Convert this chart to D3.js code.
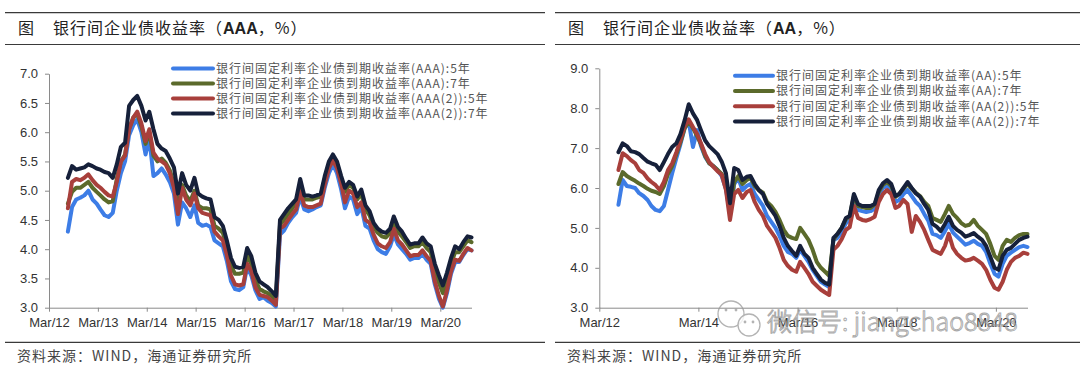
<!DOCTYPE html>
<html><head><meta charset="utf-8">
<script src="https://cdn.jsdelivr.net/npm/d3@7"></script>
<style>
html,body{margin:0;padding:0;background:#fff;}
svg{display:block;}
</style></head><body>
<svg id="c" width="1080" height="372"></svg>
<script>
// ---------------- data ----------------
const firstMonth = [2012, 6, 20];   // first observation (Jul 2012), monthly
const leftTickLabels = ["Mar/12","Mar/13","Mar/14","Mar/15","Mar/16","Mar/17","Mar/18","Mar/19","Mar/20"];
const rightTickLabels = ["Mar/12","Mar/14","Mar/16","Mar/18","Mar/20"];
const leftYTicks = [3.0,3.5,4.0,4.5,5.0,5.5,6.0,6.5,7.0];
const rightYTicks = [3.0,4.0,5.0,6.0,7.0,8.0,9.0];

const leftNames = ["银行间固定利率企业债到期收益率(AAA):5年","银行间固定利率企业债到期收益率(AAA):7年","银行间固定利率企业债到期收益率(AAA(2)):5年","银行间固定利率企业债到期收益率(AAA(2)):7年"];
const rightNames = ["银行间固定利率企业债到期收益率(AA):5年","银行间固定利率企业债到期收益率(AA):7年","银行间固定利率企业债到期收益率(AA(2)):5年","银行间固定利率企业债到期收益率(AA(2)):7年"];

const aaa5 = [4.30,4.72,4.85,4.88,4.92,
5.00,4.85,4.78,4.68,4.58,4.55,4.62,5.00,5.30,5.50,5.95,6.12,
6.22,6.00,5.62,5.90,5.25,5.30,5.38,5.28,5.15,4.95,4.42,4.80,
4.70,4.55,4.75,4.45,4.40,4.42,4.38,4.15,4.10,4.05,3.80,3.45,
3.32,3.30,3.35,3.70,3.55,3.30,3.15,3.18,3.12,3.08,3.02,4.25,
4.32,4.45,4.55,4.62,4.90,4.68,4.65,4.68,4.72,4.75,5.05,5.30,
5.45,5.30,5.02,4.70,4.90,4.85,4.60,4.72,4.40,4.35,4.15,4.00,
3.95,3.92,4.05,4.25,4.08,4.00,3.92,3.82,3.85,3.85,3.92,3.82,
3.75,3.40,3.15,3.00,3.25,3.58,3.78,3.78,3.90,4.00,3.98];
const aaa7 = [4.78,4.98,5.05,5.05,5.10,
5.15,5.05,4.98,4.92,4.85,4.80,4.82,5.20,5.50,5.62,6.05,6.25,
6.32,6.10,5.80,6.00,5.60,5.50,5.55,5.48,5.35,5.12,4.70,5.10,
4.92,4.82,5.00,4.75,4.70,4.70,4.68,4.40,4.35,4.28,4.05,3.72,
3.58,3.58,3.60,3.90,3.75,3.48,3.32,3.28,3.25,3.20,3.12,4.42,
4.50,4.60,4.70,4.78,5.10,4.85,4.85,4.85,4.88,4.90,5.20,5.45,
5.55,5.45,5.20,4.98,5.10,5.05,4.85,4.95,4.68,4.58,4.38,4.28,
4.22,4.20,4.28,4.48,4.30,4.22,4.12,4.02,4.05,4.05,4.12,4.02,
3.95,3.65,3.42,3.25,3.45,3.75,3.95,3.95,4.05,4.15,4.12];
const aaa2_5 = [4.70,5.15,5.20,5.18,5.22,
5.28,5.18,5.10,5.05,4.98,4.92,4.90,5.15,5.50,5.60,6.05,6.25,
6.35,6.15,5.85,6.05,5.65,5.55,5.50,5.45,5.30,5.05,4.60,5.05,
4.85,4.75,4.95,4.70,4.62,4.60,4.58,4.30,4.22,4.15,3.90,3.55,
3.40,3.38,3.40,3.75,3.62,3.35,3.22,3.20,3.18,3.12,3.05,4.35,
4.40,4.50,4.60,4.68,4.98,4.75,4.72,4.72,4.75,4.78,5.10,5.38,
5.52,5.38,5.12,4.80,5.00,4.95,4.72,4.80,4.50,4.45,4.25,4.10,
4.05,4.02,4.12,4.35,4.15,4.08,3.98,3.88,3.90,3.90,3.98,3.88,
3.80,3.45,3.20,3.02,3.30,3.62,3.82,3.80,3.92,4.02,3.98];
const aaa2_7 = [5.22,5.42,5.36,5.38,5.40,
5.45,5.42,5.38,5.36,5.32,5.30,5.22,5.45,5.75,5.82,6.45,6.55,
6.62,6.45,6.20,6.35,6.05,5.80,5.72,5.68,5.55,5.40,4.95,5.30,
5.10,5.00,5.22,4.95,4.90,4.87,4.85,4.55,4.50,4.40,4.15,3.85,
3.70,3.68,3.70,4.02,3.88,3.60,3.45,3.40,3.35,3.28,3.20,4.50,
4.60,4.70,4.78,4.85,5.20,4.92,4.92,4.90,4.92,4.95,5.25,5.50,
5.62,5.50,5.25,5.05,5.15,5.10,4.90,5.02,4.75,4.65,4.45,4.35,
4.30,4.28,4.35,4.56,4.38,4.30,4.18,4.08,4.10,4.10,4.20,4.10,
4.05,3.75,3.55,3.38,3.60,3.85,4.05,4.00,4.12,4.22,4.20];

const aa5 = [5.58,6.20,6.05,6.03,6.00,
5.87,5.80,5.70,5.55,5.45,5.42,5.55,5.95,6.37,6.75,7.10,7.50,
7.66,7.03,7.45,7.05,6.78,6.62,6.55,6.45,6.30,5.98,5.35,6.10,
6.25,5.95,6.05,6.10,5.85,5.70,5.55,5.30,5.15,5.00,4.80,4.55,
4.40,4.35,4.25,4.45,4.30,4.15,3.95,3.80,3.65,3.58,3.52,4.70,
4.75,4.90,5.12,5.20,5.72,5.45,5.42,5.40,5.42,5.48,5.82,6.00,
6.05,5.95,5.65,5.70,5.85,5.95,5.80,5.65,5.55,5.35,5.18,4.85,
4.82,4.75,4.92,5.10,4.88,4.78,4.68,4.58,4.62,4.68,4.60,4.55,
4.40,4.10,3.85,3.78,4.10,4.30,4.38,4.45,4.52,4.55,4.52];
const aa7 = [6.10,6.40,6.30,6.24,6.18,
6.11,6.05,5.98,5.93,5.90,5.85,6.05,6.35,6.55,6.85,7.15,7.50,
7.66,7.50,7.30,7.10,6.80,6.62,6.55,6.45,6.35,6.05,5.40,6.15,
6.30,6.10,6.20,6.25,6.05,5.95,5.88,5.65,5.55,5.40,5.20,4.95,
4.80,4.75,4.72,5.00,4.85,4.70,4.45,4.15,4.00,3.90,3.80,4.70,
4.85,5.00,5.22,5.30,5.80,5.55,5.52,5.50,5.50,5.58,5.90,6.08,
6.15,6.05,5.78,5.85,5.98,6.10,5.98,5.88,5.80,5.65,5.55,5.25,
5.20,5.15,5.35,5.55,5.35,5.25,5.12,5.05,5.08,5.20,5.05,4.95,
4.85,4.60,4.30,4.20,4.55,4.70,4.65,4.75,4.82,4.85,4.85];
const aa2_5 = [6.45,6.87,6.80,6.70,6.62,
6.45,6.38,6.24,6.15,6.07,5.95,6.15,6.45,6.62,6.90,7.20,7.55,
7.72,7.53,7.35,7.12,6.85,6.65,6.53,6.42,6.33,5.95,5.20,5.85,
5.95,5.75,5.90,5.95,5.65,5.45,5.30,5.05,4.90,4.75,4.50,4.20,
4.05,3.95,3.90,4.15,4.00,3.85,3.65,3.55,3.45,3.38,3.32,4.45,
4.55,4.72,4.95,5.02,5.55,5.25,5.20,5.18,5.22,5.28,5.65,5.85,
5.95,5.85,5.50,5.55,5.70,5.60,4.90,5.30,5.15,4.95,4.70,4.45,
4.40,4.35,4.55,4.85,4.50,4.35,4.25,4.18,4.20,4.25,4.18,4.10,
3.95,3.70,3.50,3.45,3.65,3.95,4.15,4.25,4.30,4.38,4.35];
const aa2_7 = [6.90,7.12,7.05,6.92,6.90,
6.85,6.75,6.66,6.62,6.58,6.45,6.65,6.85,7.03,7.12,7.35,7.70,
8.10,7.87,7.70,7.45,7.19,7.05,6.95,6.85,6.66,6.37,5.62,6.50,
6.45,6.20,6.28,6.30,6.10,5.95,5.85,5.60,5.45,5.30,5.05,4.75,
4.55,4.42,4.30,4.55,4.35,4.25,4.00,3.85,3.70,3.62,3.58,4.75,
4.85,5.00,5.25,5.30,5.85,5.60,5.55,5.55,5.55,5.60,5.95,6.12,
6.20,6.10,5.80,5.85,6.00,6.15,6.00,5.87,5.78,5.60,5.45,5.10,
5.03,4.92,5.10,5.28,5.05,4.95,4.88,4.78,4.82,4.87,4.78,4.70,
4.55,4.28,4.00,3.95,4.30,4.45,4.50,4.60,4.70,4.75,4.78];

const colors = ["#3d7de6","#5b6a2b","#a83f3b","#16203a"];

// ---------------- drawing ----------------
const svg = d3.select("#c");
const parseTick = d3.timeParse("%b/%y");
const dates = aaa5.map((_, i) => new Date(firstMonth[0], firstMonth[1] + i, firstMonth[2]));
const domainX = [new Date(2012, 2, 1), dates[dates.length - 1]];

const panels = [
  { title: "银行间企业债收益率（", bold: "AAA", tail: "，%）", titleX: 18, titleTextX: 53,
    lineX0: 5, lineX1: 545, xr: [49, 471.5], yr: [307.7, 73.7], yd: [3, 7],
    yTicks: leftYTicks, xTicks: leftTickLabels, names: leftNames,
    series: [aaa5, aaa7, aaa2_5, aaa2_7], leg: { x0: 173, x1: 213, y: 68.5, dy: 15 } },
  { title: "银行间企业债收益率（", bold: "AA", tail: "，%）", titleX: 568, titleTextX: 603,
    lineX0: 555, lineX1: 1080, xr: [599.3, 1027.5], yr: [307.7, 68.3], yd: [3, 9],
    yTicks: rightYTicks, xTicks: rightTickLabels, names: rightNames,
    series: [aa5, aa7, aa2_5, aa2_7], leg: { x0: 735, x1: 773, y: 75.7, dy: 15.3 } }
];

const cjk = "'Noto Sans CJK SC', sans-serif";
const latin = "'Liberation Sans', Arial, sans-serif";

panels.forEach(p => {
  const g = svg.append("g");
  // rules
  [12.7, 44.5, 342.3].forEach(y => {
    g.append("line").attr("x1", p.lineX0).attr("x2", p.lineX1).attr("y1", y).attr("y2", y)
      .attr("stroke", "#3a3a3a").attr("stroke-width", 1.2);
  });
  // title
  g.append("text").attr("x", p.titleX).attr("y", 34).attr("font-family", cjk)
    .attr("font-size", 16).attr("fill", "#222").text("图");
  const t = g.append("text").attr("x", p.titleTextX).attr("y", 34).attr("font-family", cjk)
    .attr("font-size", 16).attr("fill", "#222").attr("letter-spacing", 1);
  t.append("tspan").text(p.title);
  t.append("tspan").attr("font-family", latin).attr("font-weight", "bold").attr("letter-spacing", 0).text(p.bold);
  t.append("tspan").text(p.tail);
  // source
  g.append("text").attr("x", p.titleX - 1).attr("y", 361).attr("font-family", cjk)
    .attr("font-size", 14).attr("fill", "#444").attr("letter-spacing", 1)
    .text("资料来源：WIND，海通证券研究所");

  const x = d3.scaleTime().domain(domainX).range(p.xr);
  const y = d3.scaleLinear().domain(p.yd).range(p.yr);

  const yAxis = d3.axisLeft(y).tickValues(p.yTicks).tickFormat(d3.format(".1f"))
    .tickSizeInner(4).tickSizeOuter(0).tickPadding(7);
  const ya = g.append("g").attr("transform", `translate(${p.xr[0]},0)`).call(yAxis);
  const xAxis = d3.axisBottom(x).tickValues(p.xTicks.map(parseTick)).tickFormat(d3.timeFormat("%b/%y"))
    .tickSizeInner(4).tickSizeOuter(0).tickPadding(6);
  const xa = g.append("g").attr("transform", `translate(0,${p.yr[0]})`).call(xAxis);
  [ya, xa].forEach(a => {
    a.select(".domain").attr("stroke", "#8a8a8a");
    a.selectAll(".tick line").attr("stroke", "#8a8a8a");
    a.selectAll("text").attr("font-family", latin).attr("font-size", 13).attr("fill", "#333");
  });

  const line = d3.line().x((d, i) => x(dates[i])).y(d => y(d)).curve(d3.curveLinear);
  p.series.forEach((s, k) => {
    g.append("path").datum(s).attr("d", line).attr("fill", "none")
      .attr("stroke", colors[k]).attr("stroke-width", 4)
      .attr("stroke-linejoin", "round").attr("stroke-linecap", "round");
  });

  // legend
  p.names.forEach((n, k) => {
    const yy = p.leg.y + k * p.leg.dy;
    g.append("line").attr("x1", p.leg.x0).attr("x2", p.leg.x1).attr("y1", yy).attr("y2", yy)
      .attr("stroke", colors[k]).attr("stroke-width", 4).attr("stroke-linecap", "round");
    g.append("text").attr("x", p.leg.x1 + 3).attr("y", yy).attr("dy", "0.35em")
      .attr("font-family", cjk).attr("font-size", 12).attr("letter-spacing", 1)
      .attr("fill", "#555").text(n);
  });
});

// watermark
const wm = svg.append("g").attr("opacity", 0.75);
wm.append("circle").attr("cx", 731).attr("cy", 314).attr("r", 13).attr("fill", "none").attr("stroke", "#9a9a9a").attr("stroke-width", 1.3);
wm.append("circle").attr("cx", 749).attr("cy", 325).attr("r", 11).attr("fill", "rgba(255,255,255,0.8)").attr("stroke", "#9a9a9a").attr("stroke-width", 1.3);
[[726,310],[736,310],[745,322],[753,322]].forEach(c => wm.append("circle").attr("cx", c[0]).attr("cy", c[1]).attr("r", 1.4).attr("fill", "#9a9a9a"));
wm.append("text").attr("x", 767).attr("y", 331).attr("font-family", cjk).attr("font-weight", 300)
  .attr("font-size", 25).attr("fill", "rgba(255,255,255,0.55)").attr("stroke", "#8c8c8c").attr("stroke-width", 0.9)
  .text("微信号: jiangchao8848");
</script>
</body></html>
